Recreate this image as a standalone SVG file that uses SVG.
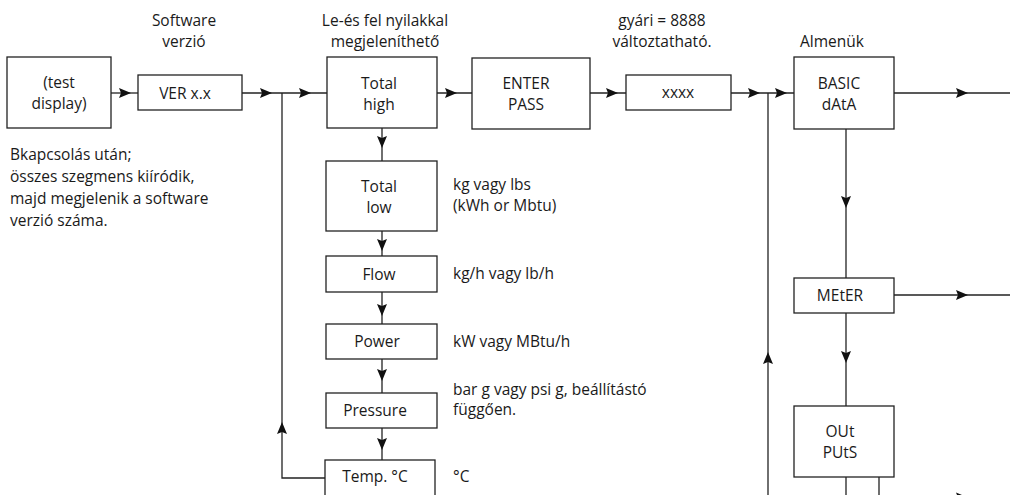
<svg xmlns="http://www.w3.org/2000/svg" width="1010" height="495" viewBox="0 0 1010 495">
  <defs>
    <style>
      .box { fill: #fff; stroke: #222; stroke-width: 1.3; }
      .wire { fill: none; stroke: #222; stroke-width: 1.3; }
      .head { fill: #111; }
      text { font-family: "Open Sans", "Liberation Sans", Arial, sans-serif; font-size: 15.5px; fill: #1a1a1a; }
      .c { text-anchor: middle; }
    </style>
    <!-- filled arrowhead, tip at origin, pointing along +x -->
    <path id="ah" d="M0,0 L-12,-5 L-10,0 L-12,5 Z" class="head"/>
  </defs>

  <rect width="1010" height="495" fill="#fff"/>

  <!-- connectors -->
  <g id="connectors">
    <!-- main line, top row -->
    <path class="wire" d="M111,93 H138"/>
    <path class="wire" d="M242,93 H327"/>
    <path class="wire" d="M437,93 H472"/>
    <path class="wire" d="M590,93 H626"/>
    <path class="wire" d="M731,93 H794"/>
    <path class="wire" d="M894,93 H1010"/>
    <!-- return loop from Temp. back to the top row -->
    <path class="wire" d="M325,478 H282 V93"/>
    <!-- return loop from the bottom back to the sub-menus -->
    <path class="wire" d="M768,500 V93"/>
    <!-- display chain -->
    <path class="wire" d="M382,128 V161"/>
    <path class="wire" d="M382,231 V256"/>
    <path class="wire" d="M382,292 V324"/>
    <path class="wire" d="M382,359 V393"/>
    <path class="wire" d="M382,428 V460"/>
    <!-- sub-menu chain -->
    <path class="wire" d="M846,129 V278"/>
    <path class="wire" d="M846,313 V406"/>
    <path class="wire" d="M894,295 H1010"/>
    <path class="wire" d="M846,477 V500"/>
    <path class="wire" d="M879,477 V497.5 H1010"/>

    <!-- arrowheads -->
    <use href="#ah" transform="translate(131,93)"/>
    <use href="#ah" transform="translate(272,93)"/>
    <use href="#ah" transform="translate(311,93)"/>
    <use href="#ah" transform="translate(457,93)"/>
    <use href="#ah" transform="translate(618,93)"/>
    <use href="#ah" transform="translate(760,93)"/>
    <use href="#ah" transform="translate(787,93)"/>
    <use href="#ah" transform="translate(968,93)"/>
    <use href="#ah" transform="translate(968,295)"/>
    <use href="#ah" transform="translate(968,497.5)"/>
    <use href="#ah" transform="translate(282,422) rotate(-90)"/>
    <use href="#ah" transform="translate(768,352) rotate(-90)"/>
    <use href="#ah" transform="translate(382,148) rotate(90)"/>
    <use href="#ah" transform="translate(382,251) rotate(90)"/>
    <use href="#ah" transform="translate(382,316) rotate(90)"/>
    <use href="#ah" transform="translate(382,381) rotate(90)"/>
    <use href="#ah" transform="translate(382,450) rotate(90)"/>
    <use href="#ah" transform="translate(846,208) rotate(90)"/>
    <use href="#ah" transform="translate(846,363) rotate(90)"/>
  </g>

  <!-- nodes -->
  <g id="test-display">
    <rect class="box" x="7" y="57" width="104" height="71"/>
    <text class="c" x="59" y="88">(test</text>
    <text class="c" x="59" y="109">display)</text>
  </g>
  <g id="ver">
    <rect class="box" x="138" y="75" width="104" height="35"/>
    <text class="c" x="185" y="99">VER x.x</text>
  </g>
  <g id="total-high">
    <rect class="box" x="327" y="57" width="110" height="71"/>
    <text class="c" x="379" y="89">Total</text>
    <text class="c" x="379" y="110">high</text>
  </g>
  <g id="enter-pass">
    <rect class="box" x="472" y="58" width="118" height="71"/>
    <text class="c" x="526" y="89">ENTER</text>
    <text class="c" x="526" y="110">PASS</text>
  </g>
  <g id="pass-value">
    <rect class="box" x="626" y="75" width="105" height="35"/>
    <text class="c" x="678" y="98">xxxx</text>
  </g>
  <g id="basic-data">
    <rect class="box" x="794" y="57" width="100" height="72"/>
    <text class="c" x="839" y="89">BASIC</text>
    <text class="c" x="839" y="110">dAtA</text>
  </g>
  <g id="total-low">
    <rect class="box" x="326" y="161" width="111" height="70"/>
    <text class="c" x="379" y="192">Total</text>
    <text class="c" x="379" y="213">low</text>
  </g>
  <g id="flow">
    <rect class="box" x="326" y="256" width="111" height="36"/>
    <text class="c" x="379" y="280">Flow</text>
  </g>
  <g id="power">
    <rect class="box" x="326" y="324" width="111" height="35"/>
    <text class="c" x="377" y="347">Power</text>
  </g>
  <g id="pressure">
    <rect class="box" x="326" y="393" width="111" height="35"/>
    <text class="c" x="375" y="416">Pressure</text>
  </g>
  <g id="temp">
    <rect class="box" x="325" y="460" width="110" height="45"/>
    <text class="c" x="375" y="482">Temp. °C</text>
  </g>
  <g id="meter">
    <rect class="box" x="794" y="278" width="100" height="35"/>
    <text class="c" x="840" y="301">MEtER</text>
  </g>
  <g id="outputs">
    <rect class="box" x="794" y="406" width="100" height="71"/>
    <text class="c" x="840" y="437">OUt</text>
    <text class="c" x="840" y="458">PUtS</text>
  </g>

  <!-- captions -->
  <g id="captions">
    <text class="c" x="184" y="26">Software</text>
    <text class="c" x="184" y="47">verzió</text>
    <text class="c" x="385" y="26">Le-és fel nyilakkal</text>
    <text class="c" x="385" y="47">megjeleníthető</text>
    <text class="c" x="662" y="26">gyári = 8888</text>
    <text class="c" x="662" y="47">változtatható.</text>
    <text class="c" x="832" y="47">Almenük</text>
    <text x="10" y="160">Bkapcsolás után;</text>
    <text x="10" y="182">összes szegmens kiíródik,</text>
    <text x="10" y="204">majd megjelenik a software</text>
    <text x="10" y="226">verzió száma.</text>
    <text x="453" y="190">kg vagy lbs</text>
    <text x="453" y="211">(kWh or Mbtu)</text>
    <text x="453" y="279">kg/h vagy lb/h</text>
    <text x="453" y="347">kW vagy MBtu/h</text>
    <text x="453" y="395">bar g vagy psi g, beállítástó</text>
    <text x="453" y="415">függően.</text>
    <text x="453" y="482">°C</text>
  </g>
</svg>
